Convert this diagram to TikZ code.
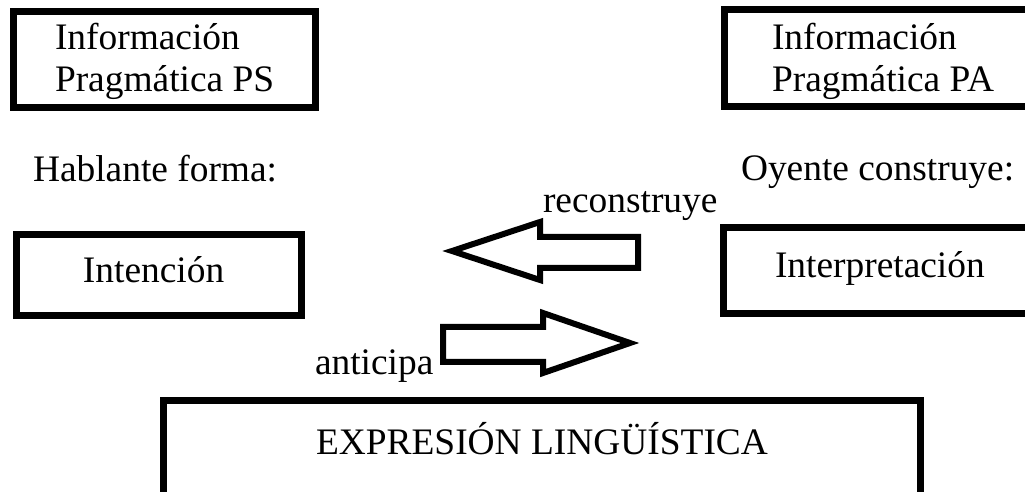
\documentclass[tikz,border=0pt]{standalone}
\usepackage{fontspec}
\setmainfont{Liberation Serif}
\usetikzlibrary{positioning}

\begin{document}
\begin{tikzpicture}[
      x=0.5pt, y=-0.5pt,
      every node/.style={font=\fontsize{18.7}{21}\selectfont, inner sep=0pt, outer sep=0pt},
      box/.style={draw, rectangle, line width=3.5pt, anchor=north west},
      txt/.style={anchor=base west, align=left},
      bigarrow/.style={draw, line width=3pt, line join=miter}
    ]

    \useasboundingbox (0,0) rectangle (1025,492);
    \clip (0,0) rectangle (1025,492);

    % cajas
    \node[box, minimum width=151pt, minimum height=48.25pt] (infoPS) at (13,11.5) {};
    \node[box, minimum width=165pt, minimum height=48.5pt] (infoPA) at (724,10) {};
    \node[box, minimum width=142.5pt, minimum height=40.5pt] (intencion) at (16,235) {};
    \node[box, minimum width=165pt, minimum height=42.75pt] (interp) at (723,228) {};
    \node[box, minimum width=378.5pt, minimum height=70pt] (expresion) at (163.5,401) {};

    % textos (base = ultima linea)
    \node[txt] (txtPS) at (55,92) {Información\\Pragmática PS};
    \node[txt] (txtPA) at (772,92) {Información\\Pragmática PA};
    \node[txt] (hablante) at (33,182) {Hablante forma:};
    \node[txt] (oyente) at (741,181) {Oyente construye:};
    \node[txt] (txtInt) at (83,283) {Intención};
    \node[txt] (txtInterp) at (775,278) {Interpretación};
    \node[txt] (reconstruye) at (543,213) {reconstruye};
    \node[txt] (anticipa) at (315,375) {anticipa};
    \node[anchor=base] (txtExp) at (542,455) {EXPRESIÓN LINGÜÍSTICA};

    % flechas
    \draw[bigarrow] (452,251) -- (540,222) -- (540,237) -- (638,237)
      -- (638,268) -- (540,268) -- (540,280) -- cycle;
    \draw[bigarrow] (443,327) -- (543,327) -- (543,313) -- (630,343)
      -- (543,373) -- (543,362) -- (443,362) -- cycle;

\end{tikzpicture}
\end{document}
